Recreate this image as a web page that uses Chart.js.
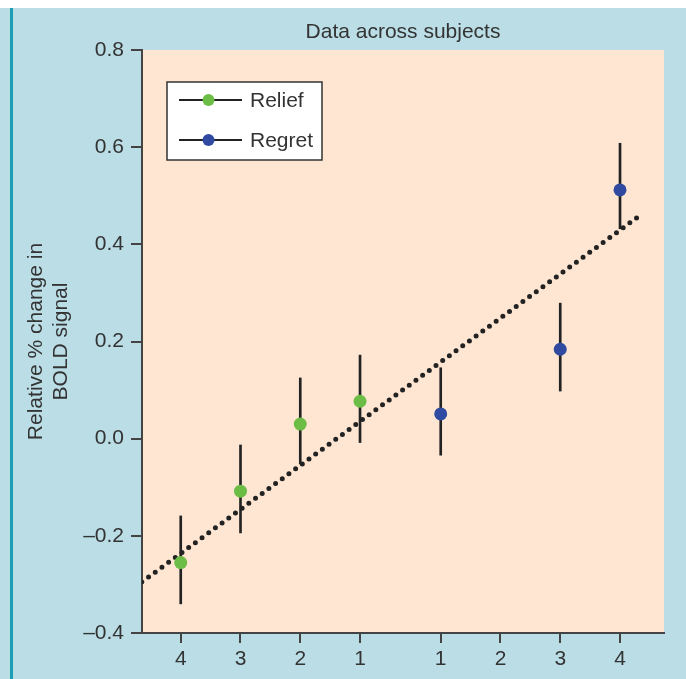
<!DOCTYPE html>
<html>
<head>
<meta charset="utf-8">
<script src="https://cdn.jsdelivr.net/npm/chart.js@4.4.0/dist/chart.umd.min.js"></script>
<style>
  html, body { margin: 0; padding: 0; background: #ffffff; }
  #wrap { position: relative; width: 686px; height: 679px; }
  #bg { position: absolute; left: 0; top: 8px; width: 686px; height: 671px; background: #badde6; }
  #edge { position: absolute; left: 10px; top: 8px; width: 2.5px; height: 671px; background: #1b9fb5; }
  #chart { position: absolute; left: 0; top: 0; }
</style>
</head>
<body>
<div id="wrap">
  <div id="bg"></div>
  <div id="edge"></div>
  <canvas id="chart" width="686" height="679"></canvas>
</div>
<script>
// tick positions along x and their labels
const xPositions = [0, 1, 2, 3, 4.35, 5.35, 6.35, 7.35];
const xTickLabels = ["4", "3", "2", "1", "1", "2", "3", "4"];

// relief subjects (4,3,2,1)
const reliefX = [0, 1, 2, 3];
const reliefMean = [-0.255, -0.108, 0.030, 0.077];
const reliefLow = [-0.340, -0.194, -0.052, -0.008];
const reliefHigh = [-0.159, -0.013, 0.125, 0.172];

// regret subjects (1,3,4)
const regretX = [4.35, 6.35, 7.35];
const regretMean = [0.051, 0.184, 0.512];
const regretLow = [-0.034, 0.098, 0.432];
const regretHigh = [0.146, 0.279, 0.608];

// regression line end points
const fitX = [-0.65, 7.71];
const fitY = [-0.295, 0.462];

const green = "#6cbd45";
const blue = "#2f4aa0";
const axisColor = "#444444";

Chart.defaults.font.family = "'Liberation Sans', Arial, sans-serif";
Chart.defaults.color = "#333333";

const errorData = [];
reliefX.forEach((x, i) => errorData.push({ x: x, y: [reliefLow[i], reliefHigh[i]] }));
regretX.forEach((x, i) => errorData.push({ x: x, y: [regretLow[i], regretHigh[i]] }));

const areaBg = {
  id: "areaBg",
  beforeDraw(chart) {
    const { ctx, chartArea: a } = chart;
    ctx.save();
    ctx.fillStyle = "#fee6d2";
    ctx.fillRect(a.left, a.top, a.right - a.left, a.bottom - a.top);
    ctx.restore();
  }
};

// legend box with line + marker, like the original
const boxLegend = {
  id: "boxLegend",
  afterDraw(chart) {
    const { ctx, chartArea: a } = chart;
    const x0 = a.left + 25, y0 = a.top + 32;
    const w = 155, h = 78;
    ctx.save();
    ctx.fillStyle = "#ffffff";
    ctx.fillRect(x0, y0, w, h);
    ctx.strokeStyle = "#333333";
    ctx.lineWidth = 1.5;
    ctx.strokeRect(x0, y0, w, h);
    const items = chart.data.datasets.filter(d => d.legendRow !== undefined);
    items.forEach(d => {
      const y = y0 + 18 + d.legendRow * 40;
      ctx.strokeStyle = "#222222";
      ctx.lineWidth = 1.8;
      ctx.beginPath();
      ctx.moveTo(x0 + 12, y);
      ctx.lineTo(x0 + 75, y);
      ctx.stroke();
      ctx.fillStyle = d.backgroundColor;
      ctx.beginPath();
      ctx.arc(x0 + 41.5, y, 6, 0, Math.PI * 2);
      ctx.fill();
      ctx.fillStyle = "#333333";
      ctx.font = "21px 'Liberation Sans', Arial, sans-serif";
      ctx.textBaseline = "middle";
      ctx.fillText(d.label, x0 + 83, y + 1);
    });
    ctx.restore();
  }
};

new Chart(document.getElementById("chart"), {
  type: "scatter",
  data: {
    datasets: [
      {
        type: "scatter",
        label: "Relief",
        legendRow: 0,
        data: reliefX.map((x, i) => ({ x: x, y: reliefMean[i] })),
        backgroundColor: green,
        borderWidth: 0,
        pointRadius: 6.5,
        order: 0,
      },
      {
        type: "scatter",
        label: "Regret",
        legendRow: 1,
        data: regretX.map((x, i) => ({ x: x, y: regretMean[i] })),
        backgroundColor: blue,
        borderWidth: 0,
        pointRadius: 6.5,
        order: 0,
      },
      {
        type: "line",
        label: "fit",
        data: fitX.map((x, i) => ({ x: x, y: fitY[i] })),
        borderColor: "#222222",
        borderWidth: 5,
        borderDash: [0, 8.3],
        borderCapStyle: "round",
        pointRadius: 0,
        fill: false,
        order: 1,
      },
      {
        type: "bar",
        label: "error",
        data: errorData,
        backgroundColor: "#222222",
        barThickness: 2,
        grouped: false,
        order: 2,
      },
    ],
  },
  options: {
    responsive: false,
    animation: false,
    devicePixelRatio: 1,
    layout: { padding: { top: 0, right: 22, bottom: 0, left: 0 } },
    plugins: {
      legend: { display: false },
      tooltip: { enabled: false },
      title: {
        display: true,
        text: "Data across subjects",
        fullSize: false,
        color: "#333333",
        font: { size: 21, weight: "normal", lineHeight: 1.2 },
        padding: { top: 20, bottom: 4.8 },
      },
    },
    scales: {
      x: {
        type: "linear",
        min: -0.648,
        max: 8.086,
        offset: false,
        afterFit: (scale) => { scale.height = 46; },
        afterBuildTicks: (scale) => {
          scale.ticks = xPositions.map(v => ({ value: v }));
        },
        ticks: {
          autoSkip: false,
          maxRotation: 0,
          padding: 4,
          font: { size: 21 },
          color: "#333333",
          callback: (value, index) => xTickLabels[index],
        },
        grid: {
          offset: false,
          drawOnChartArea: false,
          drawTicks: true,
          tickLength: 10,
          color: axisColor,
          lineWidth: 2,
        },
        border: { display: true, color: axisColor, width: 2 },
      },
      y: {
        min: -0.4,
        max: 0.8,
        afterFit: (scale) => { scale.width = 142; },
        ticks: {
          stepSize: 0.2,
          padding: 7,
          font: { size: 21 },
          color: "#333333",
          callback: (value) => {
            const v = Math.round(value * 10) / 10;
            return v < 0 ? "\u2013" + Math.abs(v).toFixed(1) : v.toFixed(1);
          },
        },
        grid: {
          drawOnChartArea: false,
          drawTicks: true,
          tickLength: 11,
          color: axisColor,
          lineWidth: 2,
        },
        border: { display: true, color: axisColor, width: 2 },
        title: {
          display: true,
          text: ["Relative % change in", "BOLD signal"],
          color: "#333333",
          font: { size: 21, lineHeight: 1.2 },
          padding: { top: 23.4, bottom: 0 },
        },
      },
    },
  },
  plugins: [areaBg, boxLegend],
});
</script>
</body>
</html>
